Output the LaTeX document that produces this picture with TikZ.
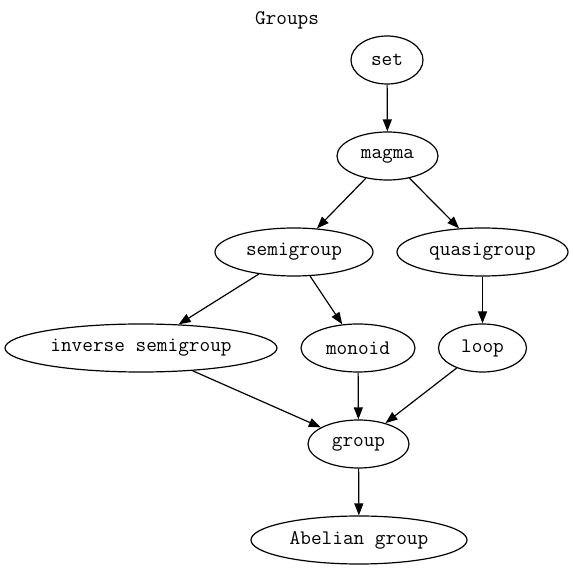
\documentclass[tikz,border=0pt]{standalone}
\usetikzlibrary{shapes.geometric,arrows.meta}
\begin{document}
\begin{tikzpicture}[x=1pt,y=-1pt,
  lbl/.style={font=\ttfamily\fontsize{20.7}{22}\selectfont},
  nd/.style={ellipse,draw,line width=1.2pt,inner sep=0pt,lbl,minimum height=48pt},
  edge/.style={draw,line width=1.2pt,-{Triangle[length=12pt,width=9pt]}}]
\useasboundingbox (0,0) rectangle (574,569);
\node[lbl] (title) at (287,20) {Groups};
\node[nd,minimum width=72pt] (set) at (387,60) {set};
\node[nd,minimum width=101pt] (magma) at (387.5,156) {magma};
\node[nd,minimum width=158pt] (semigroup) at (294,252) {semigroup};
\node[nd,minimum width=171pt] (quasigroup) at (482.5,252) {quasigroup};
\node[nd,minimum width=272pt] (inverse) at (141,348) {inverse semigroup};
\node[nd,minimum width=114pt] (monoid) at (358,348) {monoid};
\node[nd,minimum width=88pt] (loop) at (482.5,348) {loop};
\node[nd,minimum width=101pt] (group) at (358.5,444) {group};
\node[nd,minimum width=216pt] (abelian) at (359,540) {Abelian group};
\draw[edge] (set) -- (magma);
\draw[edge] (magma) -- (semigroup);
\draw[edge] (magma) -- (quasigroup);
\draw[edge] (semigroup) -- (inverse);
\draw[edge] (semigroup) -- (monoid);
\draw[edge] (quasigroup) -- (loop);
\draw[edge] (inverse) -- (group);
\draw[edge] (monoid) -- (group);
\draw[edge] (loop) -- (group);
\draw[edge] (group) -- (abelian);
\end{tikzpicture}
\end{document}
